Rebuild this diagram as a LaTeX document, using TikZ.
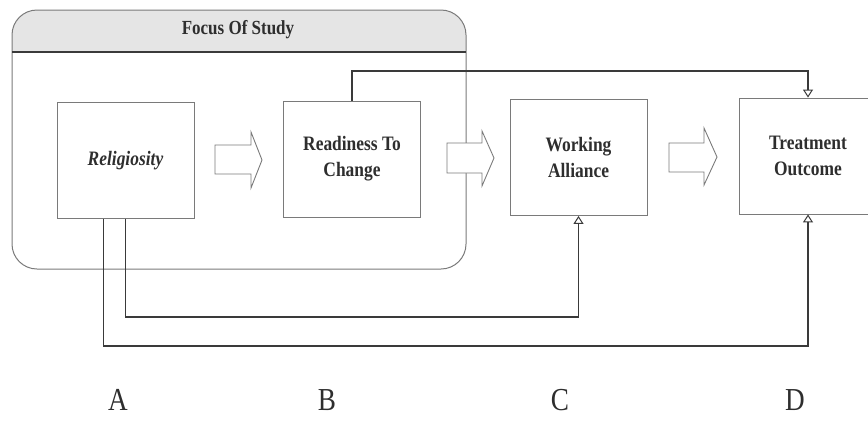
\documentclass[tikz,border=0pt]{standalone}
\usepackage{fontspec}
\setmainfont{Liberation Serif}
\newfontfamily\condfont[FakeStretch=0.85]{Liberation Serif}
\usetikzlibrary{arrows.meta}
\definecolor{linegray}{HTML}{3A3A3A}
\definecolor{boxgray}{HTML}{7A7A7A}
\definecolor{txtgray}{HTML}{2E2E2E}
\tikzset{
  varbox/.style={draw=boxgray, line width=0.9pt, fill=white, minimum width=137pt, minimum height=116pt,
    inner sep=0pt, align=center, text=txtgray, font=\condfont\fontsize{20.5}{26}\selectfont\bfseries},
  conn/.style={draw=linegray, line width=1.2pt},
  openhead/.style={-{Triangle[open, width=10pt, length=8pt, line width=1pt]}},
  blockarrow/.style={draw=boxgray, line width=0.9pt, fill=white, line join=miter},
  letter/.style={text=txtgray, font=\condfont\fontsize{32}{34}\selectfont},
  frame/.style={draw=boxgray, line width=1pt},
}
\begin{document}
\begin{tikzpicture}[x=1pt,y=-1pt]
\useasboundingbox (0,0) rectangle (868,421);
\clip (0,0) rectangle (868,421);
% focus container
\begin{scope}
  \clip[rounded corners=25pt] (12,10) rectangle (466,269);
  \fill[gray!20] (12,10) rectangle (466,52);
\end{scope}
\draw[frame, rounded corners=25pt] (12,10) rectangle (466,269);
\draw[draw=linegray, line width=1.4pt] (12,52) -- (466,52);
\node[text=txtgray, font=\condfont\fontsize{20}{22}\selectfont\bfseries] (focus) at (238,30) {Focus Of Study};
% boxes
\node[varbox] (relig) at (125.5,160.5) {\textit{Religiosity}};
\node[varbox] (ready) at (352,159) {Readiness To\\Change};
\node[varbox] (work) at (578.5,157.5) {Working\\Alliance};
\node[varbox] (treat) at (808,156) {Treatment\\Outcome};
% block arrows
\draw[blockarrow] (215,145) -- (251,145) -- (251,132) -- (262,160) -- (251,188) -- (251,174) -- (215,174) -- cycle;
\draw[blockarrow] (447,143) -- (482,143) -- (482,131) -- (494,158) -- (482,186) -- (482,173) -- (447,173) -- cycle;
\draw[blockarrow] (669,143) -- (704,143) -- (704,128) -- (717,157) -- (704,185) -- (704,172) -- (669,172) -- cycle;
% connectors
\coordinate (topc) at (352,71);
\draw[conn, openhead] (ready.north) -- (topc) -| (treat.north);
\coordinate (innc) at (125.5,317);
\draw[conn, openhead] (relig.south) -- (innc) -| (work.south);
\coordinate (outs) at ([xshift=-22pt]relig.south);
\coordinate (outc) at (103.5,346);
\draw[conn, openhead] (outs) -- (outc) -| (treat.south);
% letters
\node[letter] (la) at (118,400) {A};
\node[letter] (lb) at (327,400) {B};
\node[letter] (lc) at (560,400) {C};
\node[letter] (ld) at (795,400) {D};
\end{tikzpicture}
\end{document}
